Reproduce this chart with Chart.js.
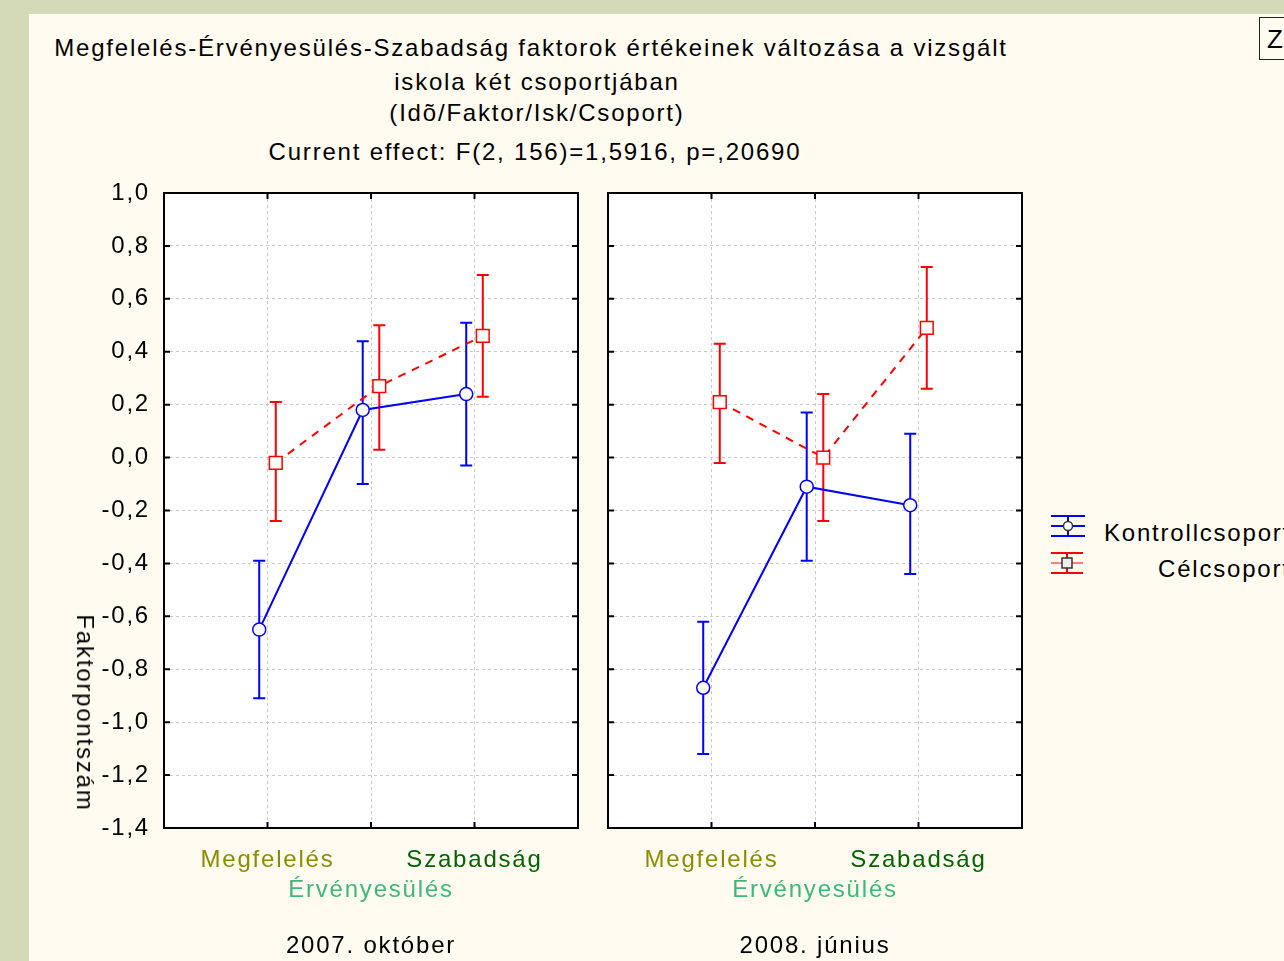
<!DOCTYPE html>
<html>
<head>
<meta charset="utf-8">
<script src="https://cdn.jsdelivr.net/npm/chart.js@4"></script>
<style>
  body { margin: 0; width: 1284px; height: 961px; overflow: hidden; background: #d4dab8; font-family: "Liberation Sans", Arial, sans-serif; letter-spacing: 1.8px; }
  #sheet { position: absolute; left: 29px; top: 14px; right: 0; bottom: 0; background: #fffbf0; }
  .line { position: absolute; width: 1000px; text-align: center; font-size: 24px; line-height: 30px; color: #000; white-space: nowrap; }
  canvas { position: absolute; }
  #ytitle { position: absolute; left: 85px; top: 713px; font-size: 24px; line-height: 30px; white-space: nowrap; transform: translate(-50%, -50%) rotate(90deg); }
  .legtext { position: absolute; font-size: 24px; line-height: 30px; white-space: nowrap; }
  #zbox { position: absolute; left: 1259px; top: 17px; width: 40px; height: 43px; border: 1.5px solid #222; font-size: 26px; line-height: 43px; padding-left: 7px; box-sizing: border-box; }
</style>
</head>
<body>
<div id="sheet"></div>
<div class="line" style="left:31px; top:33px">Megfelelés-Érvényesülés-Szabadság faktorok értékeinek változása a vizsgált</div>
<div class="line" style="left:37px; top:67px">iskola két csoportjában</div>
<div class="line" style="left:37px; top:98px">(Idõ/Faktor/Isk/Csoport)</div>
<div class="line" style="left:35px; top:137px">Current effect: F(2, 156)=1,5916, p=,20690</div>
<div id="zbox">Z</div>

<canvas id="chart2007" width="510" height="788" style="left:80px; top:173px"></canvas>
<canvas id="chart2008" width="434" height="788" style="left:598px; top:173px"></canvas>
<div id="ytitle">Faktorpontszám</div>

<svg style="position:absolute; left:1046px; top:510px" width="44" height="72">
  <g stroke="#0000ff" stroke-width="2">
    <line x1="5" y1="6" x2="39" y2="6"/>
    <line x1="5" y1="16" x2="39" y2="16"/>
    <line x1="5" y1="26" x2="39" y2="26"/>
    <line x1="22" y1="6" x2="22" y2="26"/>
  </g>
  <circle cx="22" cy="16" r="4.5" fill="#fff" stroke="#333" stroke-width="1.5"/>
  <g stroke="#ff0000" stroke-width="2">
    <line x1="5" y1="43" x2="37" y2="43"/>
    <line x1="5" y1="53" x2="37" y2="53" stroke="#ff8080"/>
    <line x1="5" y1="63" x2="37" y2="63"/>
    <line x1="21" y1="43" x2="21" y2="63"/>
  </g>
  <rect x="16" y="48" width="10" height="10" fill="#eee" stroke="#333" stroke-width="1.5"/>
</svg>
<div class="legtext" style="left:1104px; top:518px">Kontrollcsoport</div>
<div class="legtext" style="left:1158px; top:554px">Célcsoport</div>

<script>
const factors = ["Megfelelés", "Érvényesülés", "Szabadság"];
const factorColors = ["#8c8c00", "#3cb878", "#006400"];
const periods = ["2007. október", "2008. június"];
const yTicks = [-1.4, -1.2, -1.0, -0.8, -0.6, -0.4, -0.2, 0.0, 0.2, 0.4, 0.6, 0.8, 1.0];

// Kontrollcsoport, 2007. október
const kontroll2007 = [-0.65, 0.18, 0.24];
const kontroll2007Low = [-0.91, -0.10, -0.03];
const kontroll2007High = [-0.39, 0.44, 0.51];
// Célcsoport, 2007. október
const cel2007 = [-0.02, 0.27, 0.46];
const cel2007Low = [-0.24, 0.03, 0.23];
const cel2007High = [0.21, 0.50, 0.69];
// Kontrollcsoport, 2008. június
const kontroll2008 = [-0.87, -0.11, -0.18];
const kontroll2008Low = [-1.12, -0.39, -0.44];
const kontroll2008High = [-0.62, 0.17, 0.09];
// Célcsoport, 2008. június
const cel2008 = [0.21, 0.00, 0.49];
const cel2008Low = [-0.02, -0.24, 0.26];
const cel2008High = [0.43, 0.24, 0.72];

const groupShift = 0.08;
const font = { family: '"Liberation Sans", Arial, sans-serif', size: 24, lineHeight: 1.25 };

function points(values, shift) {
  return values.map((v, i) => ({ x: i + 1 + shift, y: v }));
}

// the reference text is set a little wider than Arial
function spaceLetters(chart) {
  chart.ctx.letterSpacing = "1.8px";
}

const panelPlugin = {
  id: "panelPlugin",
  beforeInit: spaceLetters,
  beforeUpdate: spaceLetters,
  beforeDraw(chart) {
    spaceLetters(chart);
    const { ctx, chartArea: a } = chart;
    ctx.save();
    ctx.fillStyle = "#ffffff";
    ctx.fillRect(a.left, a.top, a.right - a.left, a.bottom - a.top);
    ctx.restore();
  },
  beforeDatasetsDraw(chart) {
    const { ctx } = chart;
    const yScale = chart.scales.y;
    chart.data.datasets.forEach((ds, i) => {
      const meta = chart.getDatasetMeta(i);
      ctx.save();
      ctx.strokeStyle = ds.borderColor;
      ctx.lineWidth = 2;
      meta.data.forEach((pt, j) => {
        const top = yScale.getPixelForValue(ds.errHigh[j]);
        const bottom = yScale.getPixelForValue(ds.errLow[j]);
        ctx.beginPath();
        ctx.moveTo(pt.x, top);
        ctx.lineTo(pt.x, bottom);
        ctx.moveTo(pt.x - 6, top);
        ctx.lineTo(pt.x + 6, top);
        ctx.moveTo(pt.x - 6, bottom);
        ctx.lineTo(pt.x + 6, bottom);
        ctx.stroke();
      });
      ctx.restore();
    });
  },
  afterDraw(chart) {
    const { ctx, chartArea: a, scales } = chart;
    ctx.save();
    ctx.strokeStyle = "#000000";
    ctx.lineWidth = 2;
    ctx.strokeRect(a.left, a.top, a.right - a.left, a.bottom - a.top);
    ctx.beginPath();
    scales.y.ticks.forEach((t) => {
      const y = scales.y.getPixelForValue(t.value);
      ctx.moveTo(a.left, y);
      ctx.lineTo(a.left + 6, y);
      ctx.moveTo(a.right, y);
      ctx.lineTo(a.right - 6, y);
    });
    scales.x.ticks.forEach((t) => {
      const x = scales.x.getPixelForValue(t.value);
      ctx.moveTo(x, a.bottom);
      ctx.lineTo(x, a.bottom - 6);
      ctx.moveTo(x, a.top);
      ctx.lineTo(x, a.top + 6);
    });
    ctx.stroke();
    ctx.restore();
  },
};

function makePanel(canvasId, period, kMean, kLow, kHigh, cMean, cLow, cHigh, showY) {
  return new Chart(document.getElementById(canvasId), {
    type: "scatter",
    data: {
      datasets: [
        {
          label: "Kontrollcsoport",
          data: points(kMean, -groupShift),
          errLow: kLow,
          errHigh: kHigh,
          showLine: true,
          borderColor: "#0000ff",
          borderWidth: 2,
          pointStyle: "circle",
          pointRadius: 6.5,
          pointBackgroundColor: "#ffffff",
          pointBorderColor: "#0000ff",
          pointBorderWidth: 1.5,
        },
        {
          label: "Célcsoport",
          data: points(cMean, groupShift),
          errLow: cLow,
          errHigh: cHigh,
          showLine: true,
          borderColor: "#ff0000",
          borderWidth: 2,
          borderDash: [8, 7],
          pointStyle: "rect",
          pointRadius: 9,
          pointBackgroundColor: "#ffffff",
          pointBorderColor: "#ff0000",
          pointBorderWidth: 1.5,
        },
      ],
    },
    options: {
      responsive: false,
      animation: false,
      layout: {
        autoPadding: false,
        padding: { top: 20, left: showY ? 0 : 10, right: showY ? 12 : 10, bottom: 0 },
      },
      plugins: { legend: { display: false }, tooltip: { enabled: false } },
      scales: {
        x: {
          type: "linear",
          min: 0,
          max: 4,
          afterFit: (scale) => {
            scale.height = 133;
            scale.paddingLeft = 0;
            scale.paddingRight = 0;
          },
          ticks: {
            stepSize: 1,
            autoSkip: false,
            maxRotation: 0,
            minRotation: 0,
            padding: 17,
            font: font,
            color: (ctx) => factorColors[ctx.tick.value - 1] || "#000",
            callback: (value) => {
              if (value === 2) return ["", factors[1]];
              return factors[value - 1] || "";
            },
          },
          grid: { color: "#c8c8c8", lineWidth: 1, drawTicks: false },
          border: { display: false, dash: [3, 3] },
          title: { display: true, text: period, font: font, color: "#000", padding: { top: 0, bottom: 0 } },
        },
        y: {
          min: yTicks[0],
          max: yTicks[yTicks.length - 1],
          afterFit: (scale) => {
            scale.width = showY ? 84 : 0;
            scale.paddingTop = 0;
            scale.paddingBottom = 0;
          },
          afterBuildTicks: (scale) => { scale.ticks = yTicks.map((v) => ({ value: v })); },
          ticks: {
            display: showY,
            padding: 14,
            font: font,
            color: "#000",
            callback: (value) => value.toFixed(1).replace(".", ","),
          },
          grid: { color: "#c8c8c8", lineWidth: 1, drawTicks: false },
          border: { display: false, dash: [3, 3] },
        },
      },
    },
    plugins: [panelPlugin],
  });
}

makePanel("chart2007", periods[0], kontroll2007, kontroll2007Low, kontroll2007High, cel2007, cel2007Low, cel2007High, true);
makePanel("chart2008", periods[1], kontroll2008, kontroll2008Low, kontroll2008High, cel2008, cel2008Low, cel2008High, false);
</script>
</body>
</html>
